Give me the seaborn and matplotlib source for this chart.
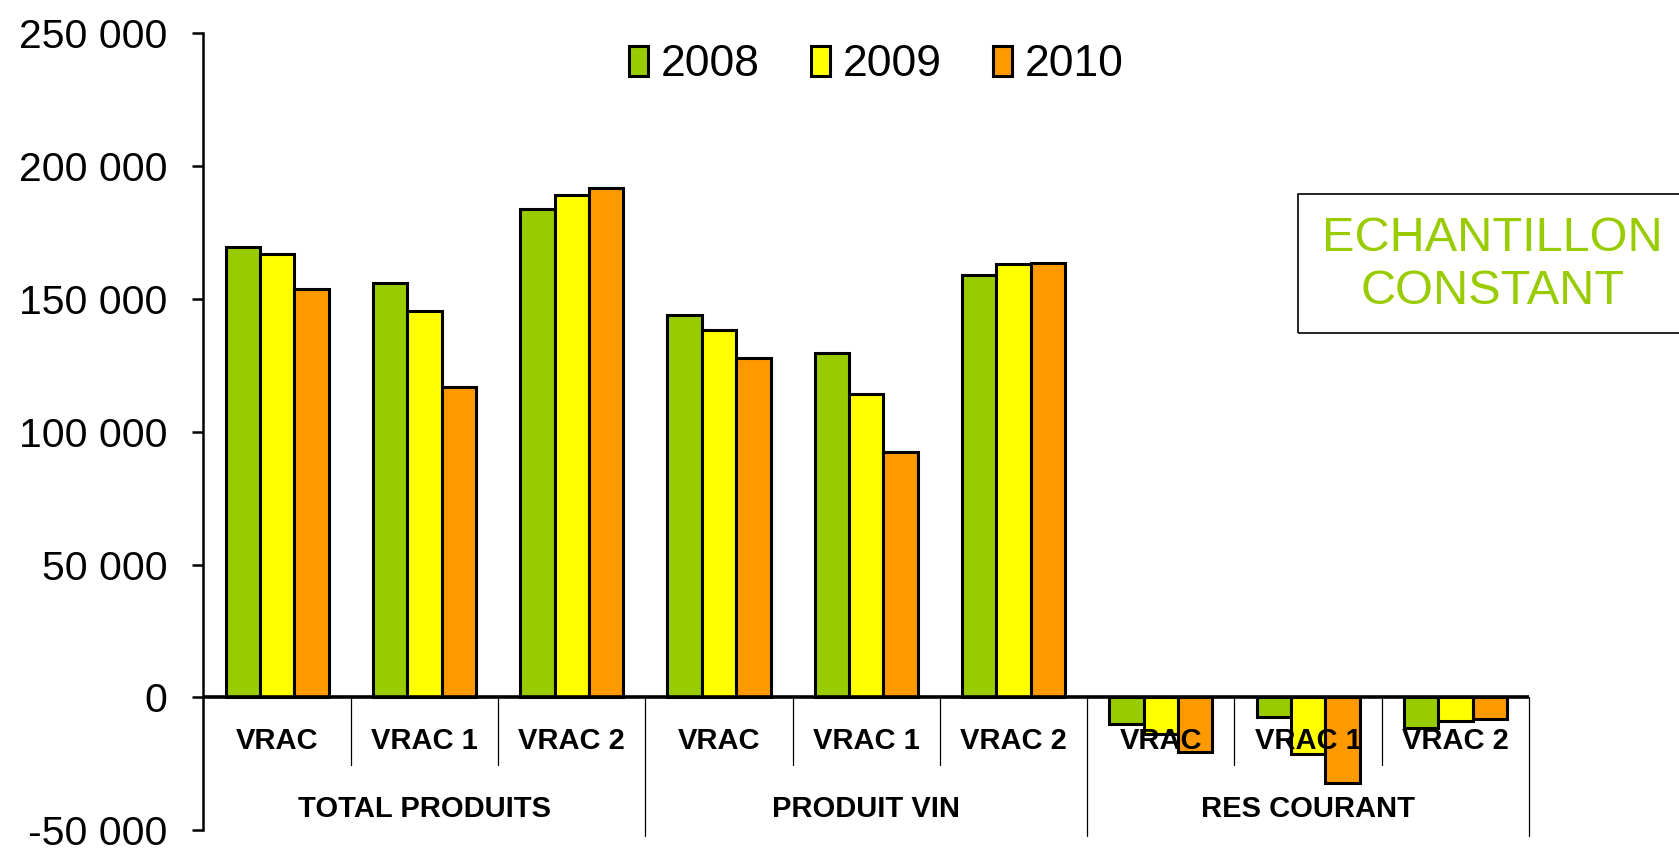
import matplotlib
matplotlib.use("Agg")
import matplotlib.pyplot as plt
from matplotlib.patches import Rectangle
import seaborn as sns
import pandas as pd

groups = ["TOTAL PRODUITS", "PRODUIT VIN", "RES COURANT"]
subs = ["VRAC", "VRAC 1", "VRAC 2"]
years = ["2008", "2009", "2010"]

# one value per (group, sub), in the order groups x subs
v2008 = [169500, 156000, 183800, 144100, 129800, 159000, -9900, -7400, -11400]
v2009 = [166900, 145600, 189000, 138500, 114200, 163300, -13800, -21200, -8900]
v2010 = [153700, 116900, 191600, 127700, 92300, 163700, -20700, -32300, -8000]

colors = ["#99cc00", "#ffff00", "#ff9900"]

keys = [f"{g}|{s}" for g in groups for s in subs]
rows = []
for yr, vals in zip(years, [v2008, v2009, v2010]):
    for k, v in zip(keys, vals):
        rows.append({"key": k, "year": yr, "value": v})
df = pd.DataFrame(rows)

sns.set_style("white")
plt.rcParams["font.family"] = ["Liberation Sans", "DejaVu Sans"]
plt.rcParams["text.color"] = "black"
plt.rcParams["ytick.color"] = "black"
plt.rcParams["axes.edgecolor"] = "black"

fig = plt.figure(figsize=(16.79, 8.55), dpi=100)
ax = fig.add_axes([0.1212, 0.029, 0.7895, 0.932])

sns.barplot(data=df, x="key", y="value", hue="year", order=keys,
            hue_order=years, palette=colors, edgecolor="black",
            linewidth=2.2, width=0.7, gap=0, saturation=1, ax=ax)

ax.set_ylim(-50000, 250000)
ax.set_xlim(-0.5, len(keys) - 0.5)
ax.set_yticks(range(-50000, 250001, 50000))
ax.set_yticklabels([f"{v:,}".replace(",", " ") for v in range(-50000, 250001, 50000)],
                   fontsize=29.5)
ax.tick_params(axis="y", direction="out", length=8, width=1.8, pad=18, left=True)
ax.set_xticks([])
ax.set_xlabel("")
ax.set_ylabel("")
for s in ["top", "right", "bottom"]:
    ax.spines[s].set_visible(False)
ax.spines["left"].set_linewidth(1.8)
ax.spines["left"].set_bounds(-50000, 250000)

ax.axhline(0, color="black", lw=2.6, zorder=4)

# category dividers below the zero line
for i in range(1, len(keys) + 1):
    x = i - 0.5
    if i % 3 == 0:
        ax.plot([x, x], [0, -52000], color="black", lw=0.9, clip_on=False, zorder=1)
    else:
        ax.plot([x, x], [0, -25300], color="black", lw=0.9, clip_on=False, zorder=1)

for i, k in enumerate(keys):
    ax.text(i, -16600, k.split("|")[1], ha="center", va="center",
            fontsize=21, fontweight="bold", zorder=6)
for j, g in enumerate(groups):
    ax.text(3 * j + 1, -42000, g, ha="center", va="center",
            fontsize=21, fontweight="bold", zorder=6)

handles, labels = ax.get_legend_handles_labels()
ax.legend(handles, labels, loc="center", bbox_to_anchor=(0.522, 0.924),
          bbox_transform=fig.transFigure, ncol=3, frameon=False, fontsize=32,
          handlelength=0.42, handleheight=0.66, handletextpad=0.3,
          columnspacing=1.15)

fig.patches.append(Rectangle((0.773, 0.6105), 0.3, 0.1625, transform=fig.transFigure,
                             fill=False, edgecolor="black", lw=1.2))
fig.text(0.889, 0.690, "ECHANTILLON\nCONSTANT", ha="center", va="center",
         fontsize=35, color="#99cc00", linespacing=1.25)

fig.savefig("out.png", dpi=100)
